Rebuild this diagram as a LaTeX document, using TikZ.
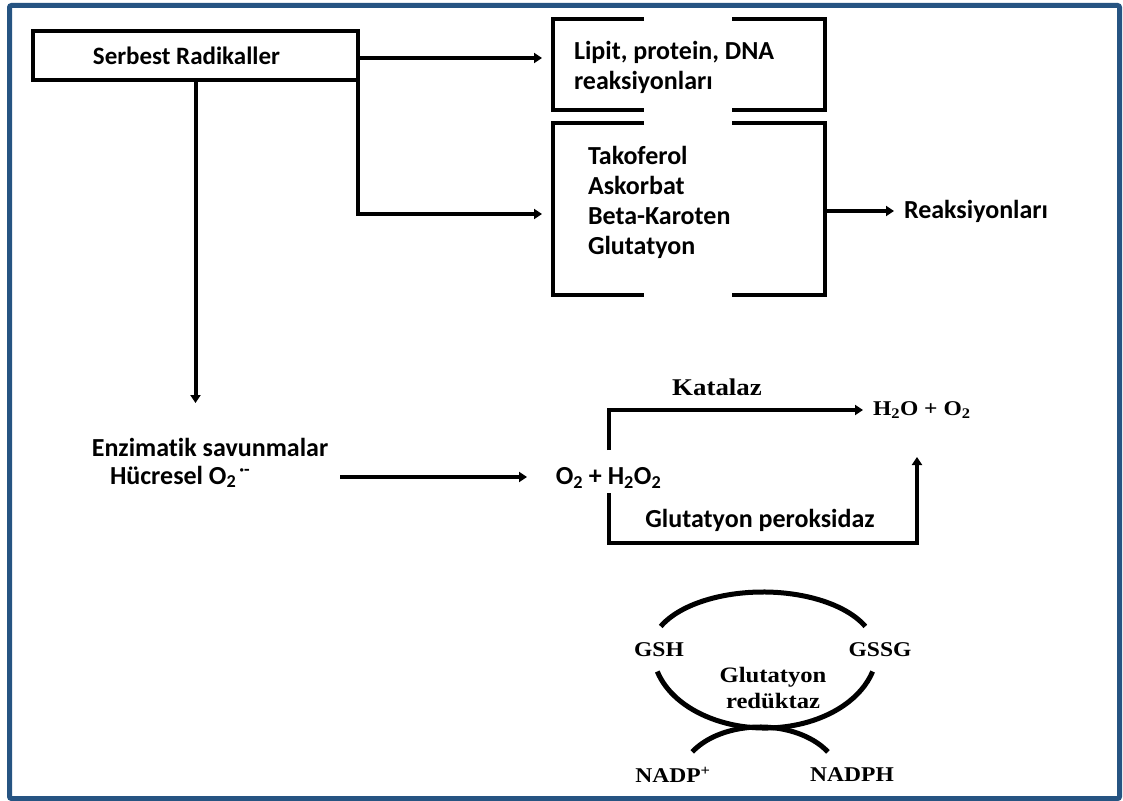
\documentclass[tikz,border=0pt]{standalone}
\usepackage{fontspec}
\setmainfont{Carlito}[Ligatures=NoCommon]
\newfontfamily\chemfont{Liberation Serif}[FakeStretch=1.12]
\usetikzlibrary{arrows.meta,calc}
\definecolor{frameblue}{RGB}{38,84,130}

\begin{document}
\begin{tikzpicture}[x=1pt,y=-1pt,
  lbl/.style={font=\fontsize{26}{30}\selectfont\bfseries, inner sep=0pt, outer sep=0pt},
  chem/.style={font=\chemfont\fontsize{#1}{28}\selectfont\bfseries, inner sep=0pt, outer sep=0pt},
  chem/.default=21,
  heavy/.style={line width=4pt},
  flow/.style={line width=4pt, -{Triangle[length=8pt,width=10pt]}},
  holder/.style={draw=none, inner sep=0pt, outer sep=0pt},
  ring/.style={line width=5pt},
]
\useasboundingbox (0,0) rectangle (1123,800);
\fill[white] (0,0) rectangle (1123,800);
\draw[line width=5pt, draw=frameblue, rounded corners=2pt] (9.5,5.5) rectangle (1119.5,798.5);

% --- top row -------------------------------------------------------
\node[heavy, draw, inner sep=0pt, outer sep=0pt, minimum width=325pt, minimum height=49pt, lbl,
  font=\fontsize{25}{30}\selectfont\bfseries]
  (sr) at (195.5,55.5) {Serbest Radikaller\hspace*{18pt}};

\node[holder, minimum width=272pt, minimum height=91pt] (lip) at (689,64.5) {};
\draw[heavy] ($(lip.north)+(-45,0)$) -- (lip.north west) -- (lip.south west) -- ($(lip.south)+(-45,0)$);
\draw[heavy] ($(lip.north)+(43,0)$) -- (lip.north east) -- (lip.south east) -- ($(lip.south)+(43,0)$);
\node[lbl, align=left, anchor=west] (liptext) at (574,67) {Lipit, protein, DNA\\reaksiyonları};

\node[holder, minimum width=272pt, minimum height=172pt] (tak) at (689,209) {};
\draw[heavy] ($(tak.north)+(-45,0)$) -- (tak.north west) -- (tak.south west) -- ($(tak.south)+(-45,0)$);
\draw[heavy] ($(tak.north)+(43,0)$) -- (tak.north east) -- (tak.south east) -- ($(tak.south)+(43,0)$);
\node[lbl, align=left, anchor=west] (taktext) at (588,202.5) {Takoferol\\Askorbat\\Beta-Karoten\\Glutatyon};

\node[lbl, anchor=west] (reak) at (904,211) {Reaksiyonları};

\draw[flow, shorten >=11pt] (sr.east |- 0,58) -- (lip.west |- 0,58);
\draw[flow, shorten >=11pt] (sr.south east) |- ($(tak.west)+(0,5)$);
\draw[flow, shorten >=10pt] (tak.east |- reak.west) -- (reak.west);

% --- enzymatic defence ----------------------------------------------
\node[lbl] (enz) at (210,447) {Enzimatik savunmalar};
\node[lbl, anchor=west] (huc) at (110,477) {Hücresel O\textsubscript{2}\textsuperscript{\,·-}};
\draw[flow] (sr.south) -- (sr.south |- 0,403);

\node[lbl] (o2) at (608.5,478) {O\textsubscript{2} + H\textsubscript{2}O\textsubscript{2}};
\node[chem, anchor=west] (h2o) at (873,410) {H\textsubscript{2}O + O\textsubscript{2}};
\draw[flow] (340,477) -- (527,477);

\draw[flow, shorten >=10pt] (608.5,450) |- (h2o.west);
\draw[flow] (608.5,493) -- (608.5,543) -| (917,457);
\node[chem=24] (kat) at (717,387) {Katalaz};
\node[lbl] (gpx) at (760,520) {Glutatyon peroksidaz};

% --- glutathione cycle ------------------------------------------------
\node[chem] (gsh) at (659,650) {GSH};
\node[chem] (gssg) at (880,650) {GSSG};
\node[chem=22, align=center] (gr) at (773,688) {Glutatyon\\[-2pt]redüktaz};
\node[chem] (nadp) at (673,775) {NADP\textsuperscript{+}};
\node[chem] (nadph) at (852,775) {NADPH};

% upper and lower halves of the GSH/GSSG ring, and the NADP+/NADPH arc
\draw[ring] (660.7,626.4) arc[start angle=156, end angle=24, x radius=112pt, y radius=58pt];
\draw[ring] (657.3,671.5) arc[start angle=196, end angle=344, x radius=112pt, y radius=78pt];
\draw[ring] (692.2,751.9) arc[start angle=148, end angle=32, x radius=80pt, y radius=53pt];
\end{tikzpicture}
\end{document}
